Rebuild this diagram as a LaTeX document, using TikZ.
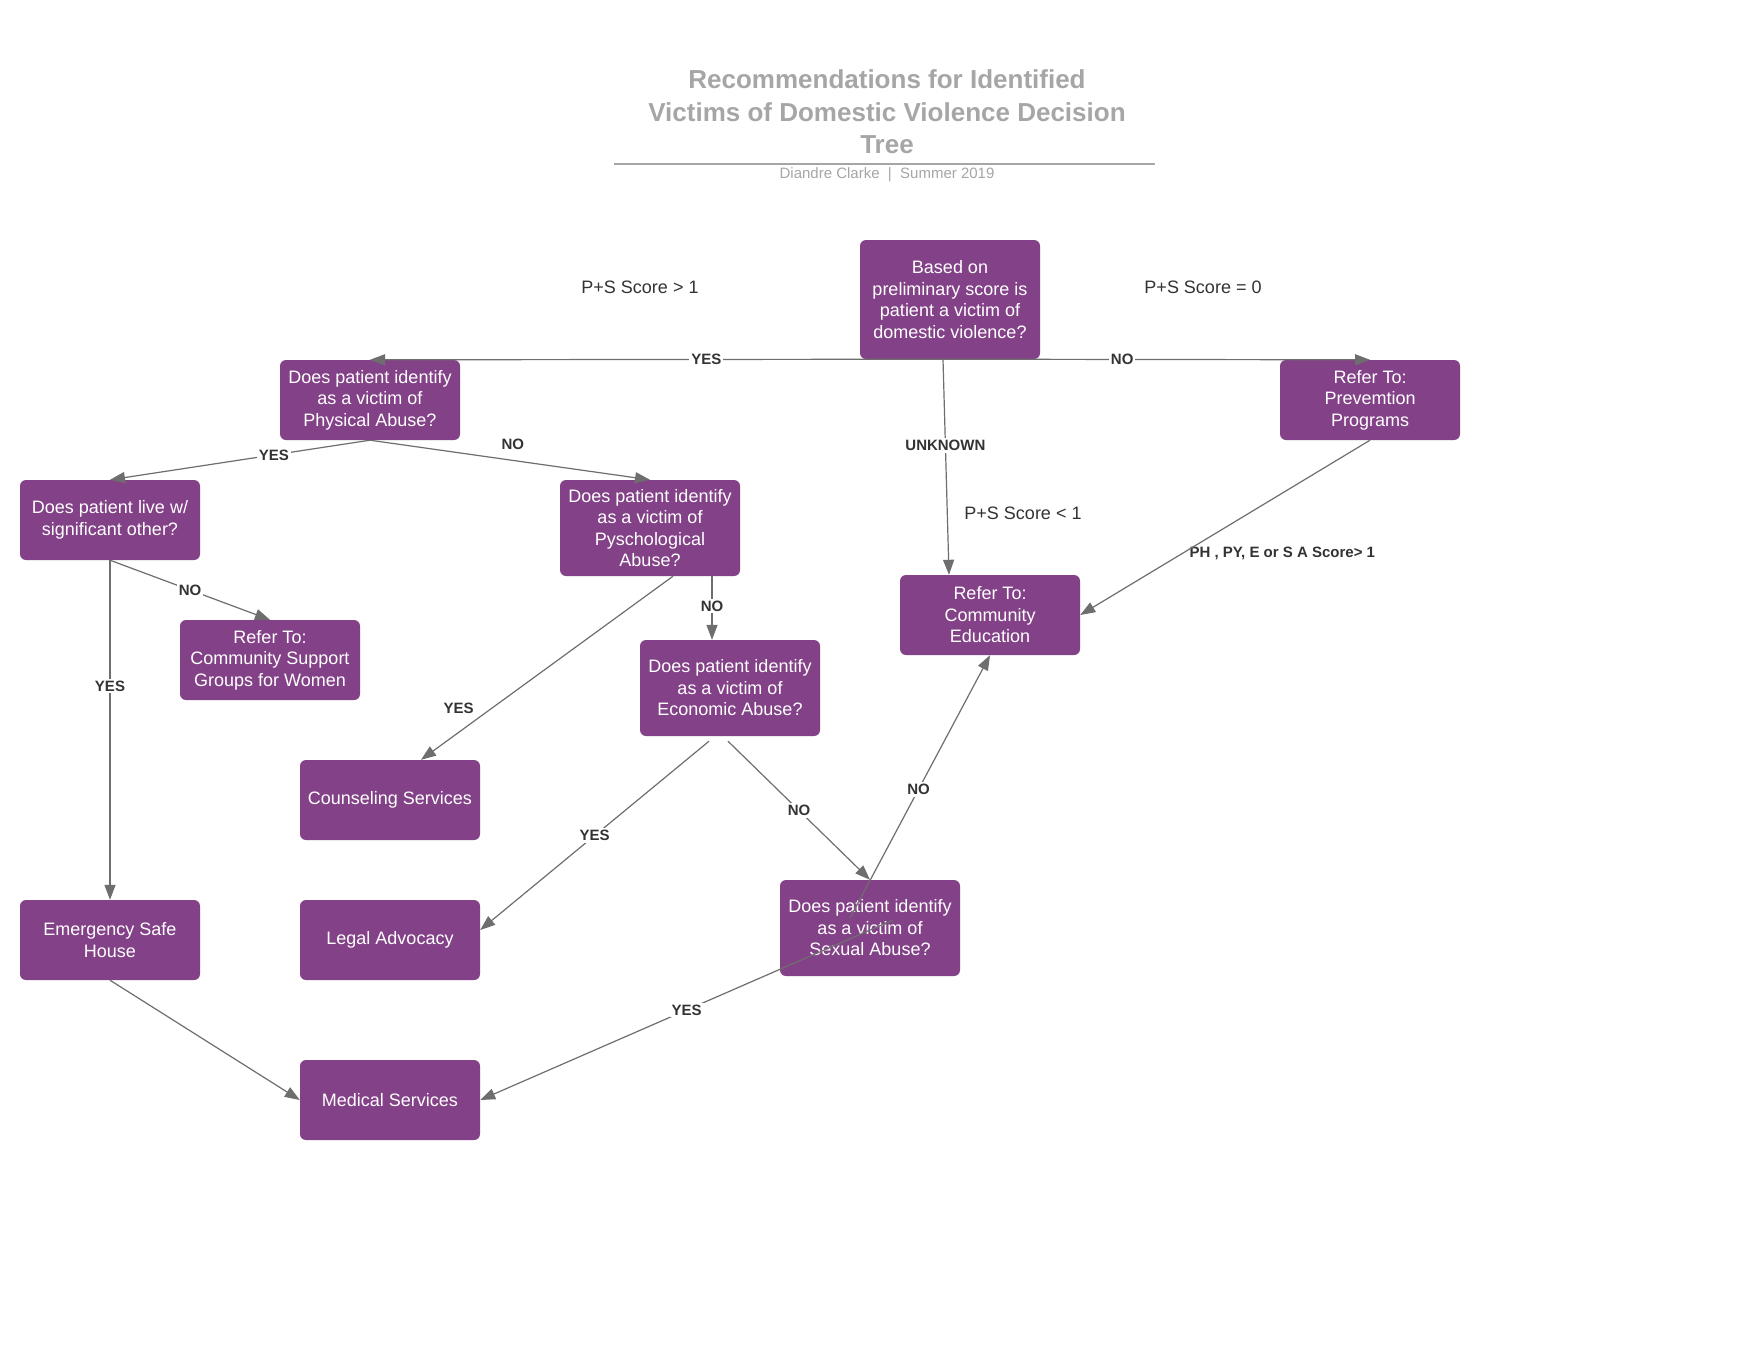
\documentclass[tikz,border=0pt]{standalone}
\usepackage{fontspec}
\setmainfont{Liberation Sans}
\usepackage{xcolor}
\usetikzlibrary{arrows.meta,positioning}
\definecolor{dvpurple}{RGB}{131,65,135}
\definecolor{dvline}{RGB}{110,110,110}
\definecolor{dvgrey}{RGB}{166,166,166}
\definecolor{dvtext}{RGB}{51,51,51}

\begin{document}
\begin{tikzpicture}[x=1pt, y=-1pt,
    box/.style={rectangle, rounded corners=6pt, fill=dvpurple, text=white,
      minimum width=180pt, minimum height=80pt, inner sep=0pt, align=center,
      font=\fontsize{18}{21.5}\selectfont},
    lbl/.style={fill=white, inner sep=2pt, text=dvtext,
      font=\fontsize{15}{18}\selectfont\bfseries},
    note/.style={text=dvtext, font=\fontsize{18}{21.5}\selectfont},
    arr/.style={draw=dvline, line width=1.2pt, -{Triangle[length=15pt,width=11pt]}}]
  % scale: 1 pt = 1 px, y runs down
  \fill[white] (0,0) rectangle (1760,1360);
  \useasboundingbox (0,0) rectangle (1760,1360);

  % title block
  \node[text=dvgrey, align=center, font=\fontsize{26}{32.5}\selectfont\bfseries] (title) at (887,112)
    {Recommendations for Identified\\Victims of Domestic Violence Decision\\Tree};
  \draw[dvgrey, line width=2pt] (614,164) -- (1155,164);
  \node[text=dvgrey, font=\fontsize{15}{18}\selectfont] (byline) at (887,175) {Diandre Clarke\ \ |\ \ Summer 2019};

  % boxes
  \node[box, minimum height=119pt] (root) at (950,299.5) {Based on\\preliminary score is\\patient a victim of\\domestic violence?};
  \node[box] (phys) at (370,400) {Does patient identify\\as a victim of\\Physical Abuse?};
  \node[box] (prev) at (1370,400) {Refer To:\\Prevemtion\\Programs};
  \node[box] (live) at (110,520) {Does patient live w/\\significant other?};
  \node[box, minimum height=96pt] (psych) at (650,528) {Does patient identify\\as a victim of\\Pyschological\\Abuse?};
  \node[box] (support) at (270,660) {Refer To:\\Community Support\\Groups for Women};
  \node[box, minimum height=96pt] (econ) at (730,688) {Does patient identify\\as a victim of\\Economic Abuse?};
  \node[box] (commed) at (990,615) {Refer To:\\Community\\Education};
  \node[box] (couns) at (390,800) {Counseling Services};
  \node[box] (legal) at (390,940) {Legal Advocacy};
  \node[box] (emerg) at (110,940) {Emergency Safe\\House};
  \node[box] (medical) at (390,1100) {Medical Services};
  \node[box, minimum height=96pt] (sexual) at (870,928) {Does patient identify\\as a victim of\\Sexual Abuse?};

  % free texts
  \node[note] (gtone) at (640,287) {P+S Score > 1};
  \node[note] (eqzero) at (1203,287) {P+S Score = 0};
  \node[note] (ltone) at (1023,513) {P+S Score < 1};
  \node[anchor=west, text=dvtext, font=\fontsize{15}{18}\selectfont\bfseries] (subscore) at (1186,553) {PH , PY, E or S A Score> 1};

  % connectors
  \draw[arr] (root.south) -- node[lbl, pos=.42] {YES} (phys.north);
  \draw[arr] (root.south) -- node[lbl, pos=.41] {NO} (prev.north);
  \draw[arr] ([xshift=-7pt]root.south) -- node[lbl, pos=.4] {UNKNOWN} ([xshift=-41pt]commed.north);
  \draw[arr] (phys.south) -- node[lbl, pos=.37] {YES} (live.north);
  \draw[arr] (phys.south) -- node[lbl, pos=.51, yshift=16pt] {NO} (psych.north);
  \draw[arr] (live.south) -- node[lbl] {NO} (support.north);
  \draw[arr] (live.south) -- node[lbl, pos=.37] {YES} (emerg.north);
  \draw[arr] ([xshift=23pt]psych.south) -- node[lbl, pos=.72, xshift=-33pt] {YES} ([xshift=31pt]couns.north);
  \draw[arr] ([xshift=62pt]psych.south) -- node[lbl, pos=.47] {NO} ([xshift=-18pt]econ.north);
  \draw[arr] ([xshift=-21pt,yshift=-5pt]econ.south) -- node[lbl] {YES} ([yshift=10pt]legal.east);
  \draw[arr] ([xshift=-2pt,yshift=-5pt]econ.south) -- node[lbl] {NO} (sexual.north);
  \coordinate (sxno) at ([xshift=-20pt,yshift=10pt]sexual.center);
  \coordinate (sxyes) at ([xshift=23pt,yshift=8pt]sexual.center);
  \draw[arr] (sxno) -- node[lbl, pos=.49] {NO} (commed.south);
  \draw[arr] (sxyes) -- node[lbl] {YES} (medical.east);
  \draw[arr] (emerg.south) -- (medical.west);
  \draw[arr] (prev.south) -- (commed.east);
\end{tikzpicture}
\end{document}
